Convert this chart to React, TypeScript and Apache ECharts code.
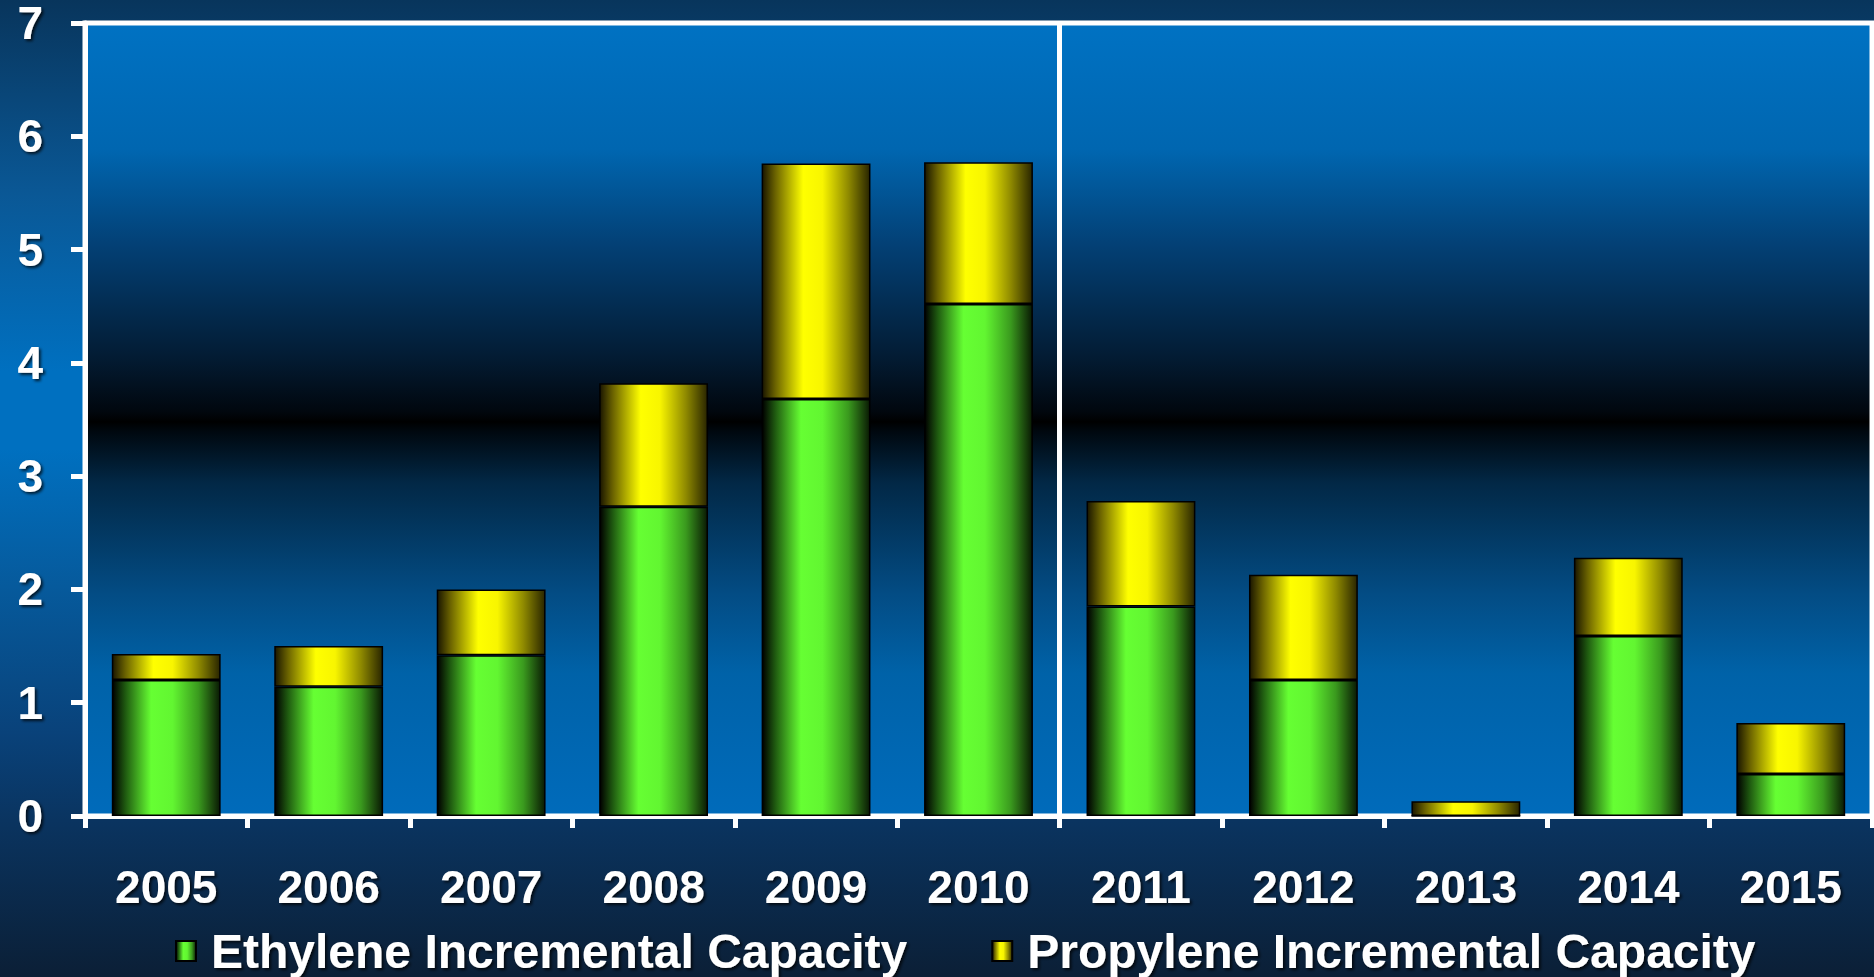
import React, { useEffect, useRef } from "react";
import * as echarts from "echarts";

const years = ["2005", "2006", "2007", "2008", "2009", "2010", "2011", "2012", "2013", "2014", "2015"];
const ethylene = [1.2, 1.14, 1.42, 2.73, 3.68, 4.52, 1.85, 1.2, 0, 1.59, 0.37];
const propylene = [0.23, 0.36, 0.58, 1.09, 2.08, 1.25, 0.93, 0.93, 0.13, 0.69, 0.45];
const yTicks = { min: 0, max: 7, interval: 1 };
const seriesNames = ["Ethylene Incremental Capacity", "Propylene Incremental Capacity"];
// category boundaries (left edge of each year, plus the right end); the divider sits before 2011
const boundaries = [...years, "end"];
const dividerBefore = "2011";

const FONT = "'Liberation Sans', Arial, sans-serif";

const shadow = {
  textShadowColor: "rgba(0,0,0,0.75)",
  textShadowBlur: 3,
  textShadowOffsetX: 2,
  textShadowOffsetY: 2,
};

function hGrad(stops: [number, string][]) {
  return new echarts.graphic.LinearGradient(0, 0, 1, 0, stops.map(([offset, color]) => ({ offset, color })));
}
function vGrad(stops: [number, string][]) {
  return new echarts.graphic.LinearGradient(0, 0, 0, 1, stops.map(([offset, color]) => ({ offset, color })));
}

export default function App() {
  const ref = useRef<HTMLDivElement>(null);
  useEffect(() => {
    if (!ref.current) return;
    const chart = echarts.init(ref.current, undefined, { renderer: "svg" });
    const green = hGrad([
      [0, "#000000"],
      [0.12, "#1f5a10"],
      [0.36, "#66ff33"],
      [0.56, "#62f631"],
      [0.8, "#3a9a1e"],
      [1, "#0a1a04"],
    ]);
    const yellow = hGrad([
      [0, "#1a1600"],
      [0.12, "#6a6200"],
      [0.38, "#ffff00"],
      [0.56, "#f8f500"],
      [0.8, "#8f8a00"],
      [1, "#2a2600"],
    ]);
    const dividerIndex = boundaries.indexOf(dividerBefore);
    chart.setOption({
      animation: false,
      backgroundColor: vGrad([
        [0, "#08355c"],
        [0.2, "#0a5896"],
        [0.38, "#0070c0"],
        [0.46, "#0070c0"],
        [0.6, "#065a9c"],
        [0.75, "#09427a"],
        [0.84, "#0a3460"],
        [1, "#0b1f36"],
      ]),
      grid: {
        left: 85,
        top: 20,
        right: 2,
        bottom: 161,
        show: true,
        borderColor: "#ffffff",
        borderWidth: 5,
        backgroundColor: vGrad([
          [0, "#0072c3"],
          [0.16, "#0066b0"],
          [0.28, "#034075"],
          [0.42, "#031c34"],
          [0.49, "#01070e"],
          [0.503, "#000000"],
          [0.515, "#00080f"],
          [0.58, "#022846"],
          [0.72, "#034c84"],
          [0.82, "#0062a8"],
          [1, "#006bbb"],
        ]),
      },
      legend: {
        left: 170,
        top: 922,
        itemWidth: 20,
        itemHeight: 20,
        itemGap: 84,
        icon: "rect",
        data: seriesNames,
        textStyle: {
          color: "#ffffff",
          fontFamily: FONT,
          fontWeight: "bold",
          fontSize: 48,
          lineHeight: 46,
          padding: [0, 0, 0, 10],
          ...shadow,
        },
      },
      xAxis: [
        {
          type: "category",
          data: years,
          boundaryGap: true,
          axisLine: { lineStyle: { color: "#ffffff", width: 5 } },
          axisTick: { show: true, length: 12, lineStyle: { color: "#ffffff", width: 5 } },
          splitLine: { show: false },
          axisLabel: {
            color: "#ffffff",
            fontFamily: FONT,
            fontWeight: "bold",
            fontSize: 46,
            margin: 48,
            ...shadow,
          },
        },
        {
          type: "category",
          data: boundaries,
          boundaryGap: false,
          position: "bottom",
          axisLine: { show: false },
          axisTick: { show: false },
          axisLabel: { show: false },
          splitLine: {
            show: true,
            interval: (index: number) => index === dividerIndex,
            lineStyle: { color: "#ffffff", width: 5 },
          },
        },
      ],
      yAxis: {
        type: "value",
        min: yTicks.min,
        max: yTicks.max,
        interval: yTicks.interval,
        axisLine: { show: true, lineStyle: { color: "#ffffff", width: 5 } },
        axisTick: { show: true, length: 14, lineStyle: { color: "#ffffff", width: 5 } },
        splitLine: { show: false },
        axisLabel: {
          color: "#ffffff",
          fontFamily: FONT,
          fontWeight: "bold",
          fontSize: 46,
          lineHeight: 32,
          margin: 42,
          ...shadow,
        },
      },
      series: [
        {
          name: seriesNames[0],
          type: "bar",
          stack: "total",
          barWidth: "67%",
          data: ethylene,
          itemStyle: { color: green, borderColor: "#000000", borderWidth: 1.5 },
        },
        {
          name: seriesNames[1],
          type: "bar",
          stack: "total",
          barWidth: "67%",
          data: propylene,
          itemStyle: { color: yellow, borderColor: "#000000", borderWidth: 1.5 },
        },
      ],
    });
    return () => chart.dispose();
  }, []);
  return (
    <div
      ref={ref}
      style={{ position: "fixed", left: 0, top: 0, width: 1874, height: 977 }}
    />
  );
}
